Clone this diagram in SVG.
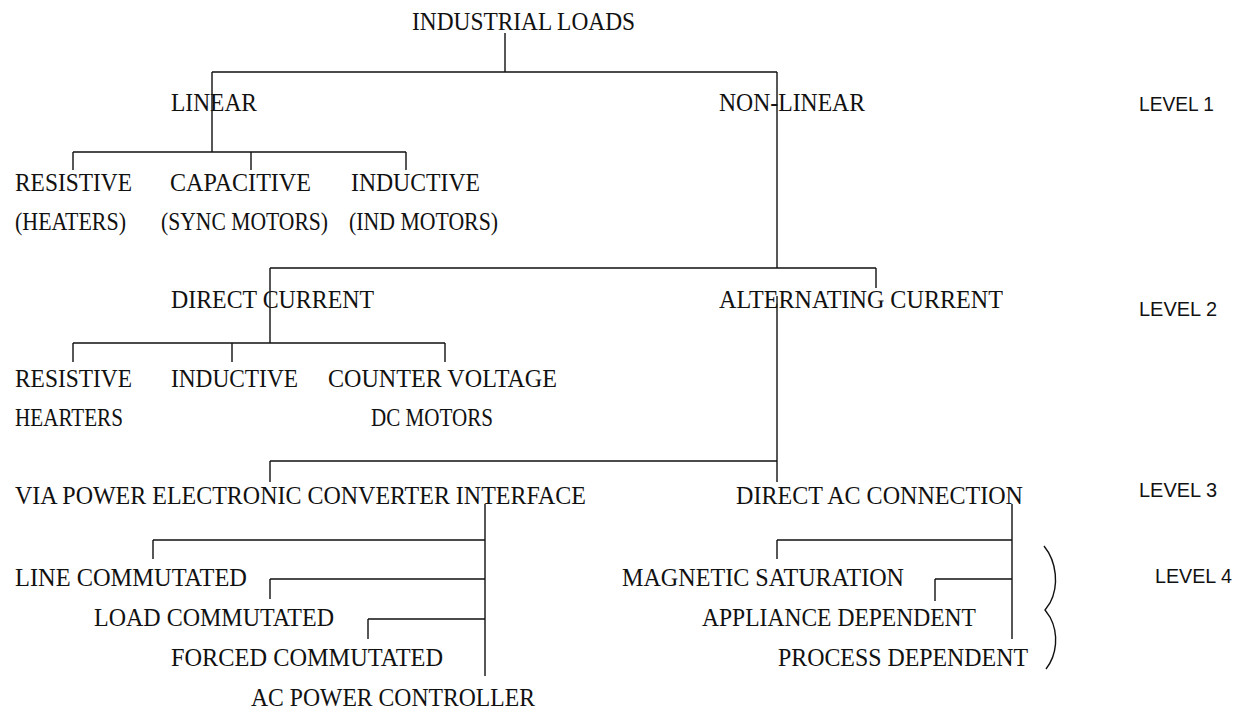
<svg xmlns="http://www.w3.org/2000/svg" width="1239" height="709" viewBox="0 0 1239 709">
<style>
.t{font-family:"Liberation Serif","DejaVu Serif",serif;font-size:25px;fill:#111;}
.lv{font-family:"Liberation Sans",Arial,sans-serif;font-size:21px;fill:#111;}
.c{fill:none;stroke:#111;stroke-width:1.4;}
</style>
<rect width="1239" height="709" fill="#fff"/>
<g id="connectors" class="c">
<path d="M505,33V72M212,72H777M212,72V152M777,72V268M73,152H406M73,152V170M251,152V170M406,152V170"/>
<path d="M270,268H876M270,268V343M876,268V288M73,343H445M73,343V362M232,343V362M445,343V362"/>
<path d="M777,296V482M270,461H777M270,461V482"/>
<path d="M485,504V676M153,540H485M153,540V559M270,579H485M270,579V599M368,619H485M368,619V639"/>
<path d="M1012,504V639M777,540H1012M777,540V559M935,579H1012M935,579V601"/>
</g>
<g id="brace"><path class="c" d="M1044,546C1057,562 1059,586 1050,603L1045,610L1050,617C1059,634 1057,655 1046,669"/></g>
<g id="n-root"><text class="t" x="412" y="30" textLength="223" lengthAdjust="spacingAndGlyphs">INDUSTRIAL LOADS</text></g>
<g id="n-linear"><text class="t" x="171" y="111" textLength="86" lengthAdjust="spacingAndGlyphs">LINEAR</text></g>
<g id="n-nonlinear"><text class="t" x="719" y="111" textLength="146" lengthAdjust="spacingAndGlyphs">NON-LINEAR</text></g>
<g id="n-resistive1"><text class="t" x="15" y="191" textLength="117" lengthAdjust="spacingAndGlyphs">RESISTIVE</text><text class="t" x="15" y="230" textLength="111" lengthAdjust="spacingAndGlyphs">(HEATERS)</text></g>
<g id="n-capacitive"><text class="t" x="170" y="191" textLength="141" lengthAdjust="spacingAndGlyphs">CAPACITIVE</text><text class="t" x="161" y="230" textLength="167" lengthAdjust="spacingAndGlyphs">(SYNC MOTORS)</text></g>
<g id="n-inductive1"><text class="t" x="351" y="191" textLength="129" lengthAdjust="spacingAndGlyphs">INDUCTIVE</text><text class="t" x="349" y="230" textLength="149" lengthAdjust="spacingAndGlyphs">(IND MOTORS)</text></g>
<g id="n-dc"><text class="t" x="171" y="308" textLength="203" lengthAdjust="spacingAndGlyphs">DIRECT CURRENT</text></g>
<g id="n-ac"><text class="t" x="719" y="308" textLength="284" lengthAdjust="spacingAndGlyphs">ALTERNATING CURRENT</text></g>
<g id="n-resistive2"><text class="t" x="15" y="387" textLength="117" lengthAdjust="spacingAndGlyphs">RESISTIVE</text><text class="t" x="15" y="426" textLength="108" lengthAdjust="spacingAndGlyphs">HEARTERS</text></g>
<g id="n-inductive2"><text class="t" x="171" y="387" textLength="127" lengthAdjust="spacingAndGlyphs">INDUCTIVE</text></g>
<g id="n-counter"><text class="t" x="328" y="387" textLength="229" lengthAdjust="spacingAndGlyphs">COUNTER VOLTAGE</text><text class="t" x="371" y="426" textLength="122" lengthAdjust="spacingAndGlyphs">DC MOTORS</text></g>
<g id="n-via"><text class="t" x="15" y="504" textLength="571" lengthAdjust="spacingAndGlyphs">VIA POWER ELECTRONIC CONVERTER INTERFACE</text></g>
<g id="n-directac"><text class="t" x="736" y="504" textLength="287" lengthAdjust="spacingAndGlyphs">DIRECT AC CONNECTION</text></g>
<g id="n-line"><text class="t" x="15" y="586" textLength="232" lengthAdjust="spacingAndGlyphs">LINE COMMUTATED</text></g>
<g id="n-load"><text class="t" x="94" y="626" textLength="240" lengthAdjust="spacingAndGlyphs">LOAD COMMUTATED</text></g>
<g id="n-forced"><text class="t" x="171" y="666" textLength="272" lengthAdjust="spacingAndGlyphs">FORCED COMMUTATED</text></g>
<g id="n-acpc"><text class="t" x="251" y="706" textLength="284" lengthAdjust="spacingAndGlyphs">AC POWER CONTROLLER</text></g>
<g id="n-magnetic"><text class="t" x="622" y="586" textLength="282" lengthAdjust="spacingAndGlyphs">MAGNETIC SATURATION</text></g>
<g id="n-appliance"><text class="t" x="702" y="626" textLength="274" lengthAdjust="spacingAndGlyphs">APPLIANCE DEPENDENT</text></g>
<g id="n-process"><text class="t" x="778" y="666" textLength="250" lengthAdjust="spacingAndGlyphs">PROCESS DEPENDENT</text></g>
<g id="levels">
<text class="lv" x="1139" y="111" textLength="75" lengthAdjust="spacingAndGlyphs">LEVEL 1</text>
<text class="lv" x="1139" y="316" textLength="78" lengthAdjust="spacingAndGlyphs">LEVEL 2</text>
<text class="lv" x="1139" y="497" textLength="78" lengthAdjust="spacingAndGlyphs">LEVEL 3</text>
<text class="lv" x="1155" y="583" textLength="77" lengthAdjust="spacingAndGlyphs">LEVEL 4</text>
</g>
</svg>
